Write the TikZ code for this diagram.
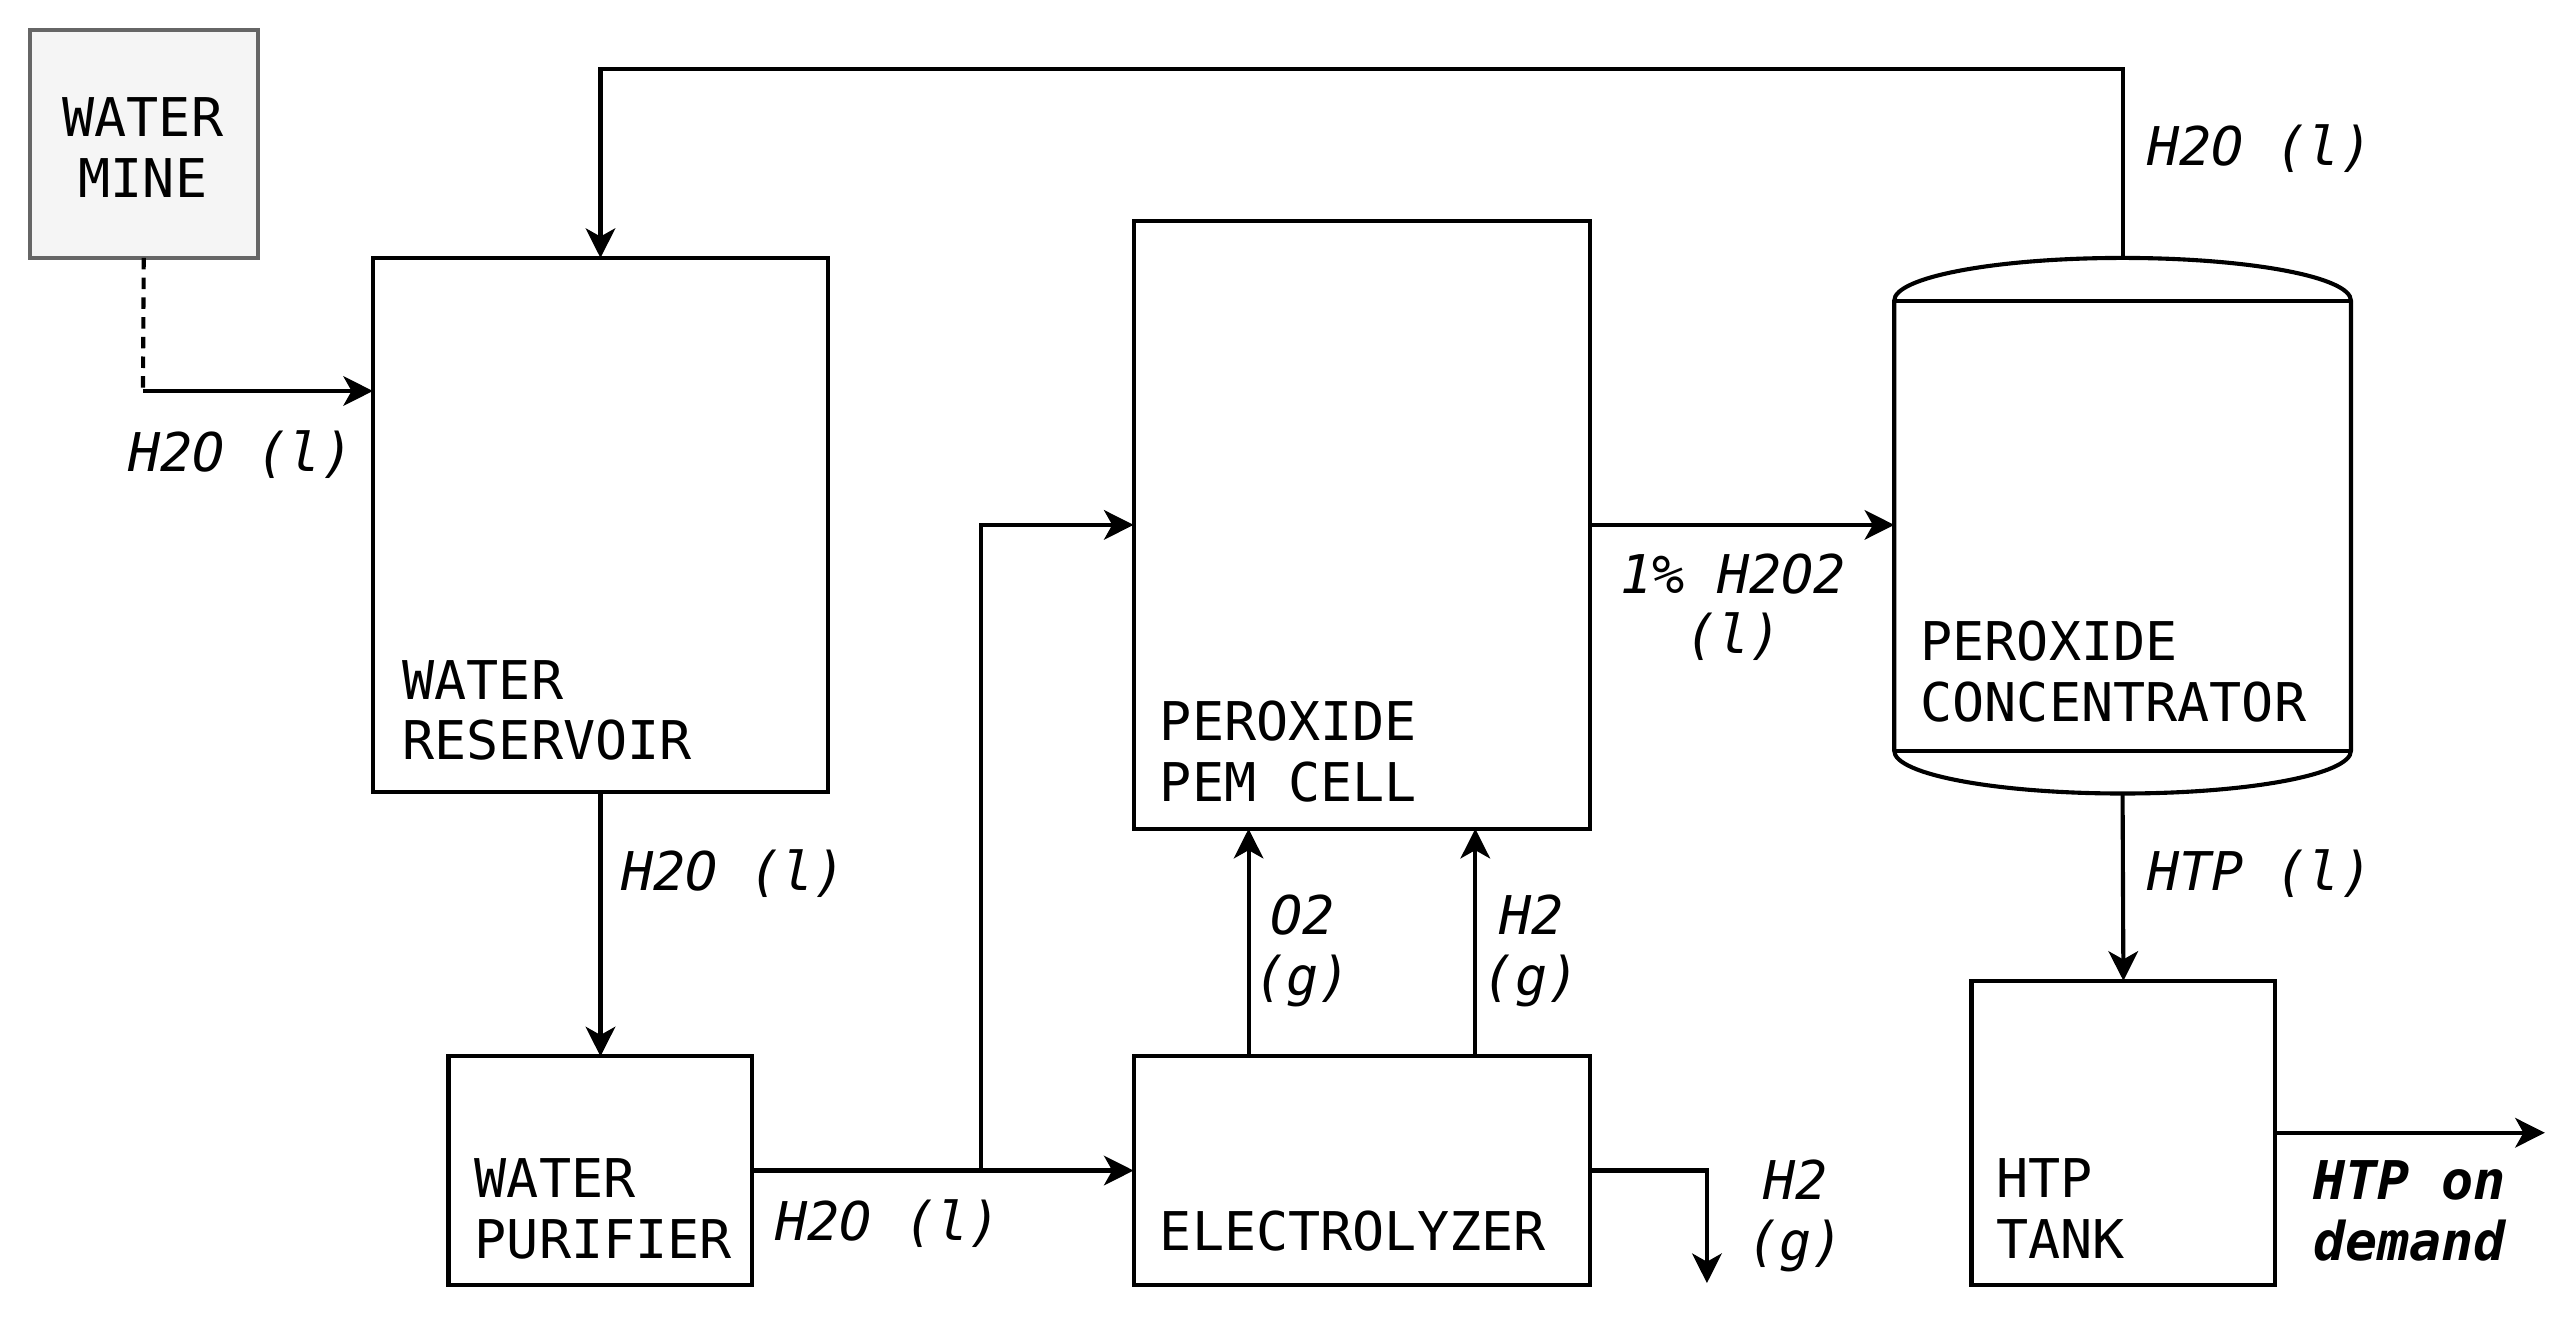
\documentclass[tikz,border=0pt]{standalone}
\usepackage{fontspec}
\setmonofont{DejaVu Sans Mono}
\usetikzlibrary{arrows.meta}
\definecolor{minefill}{HTML}{F5F5F5}
\definecolor{minedraw}{HTML}{666666}
\begin{document}
\begin{tikzpicture}[x=1pt,y=-1pt,
  every node/.style={inner sep=0pt, outer sep=0pt},
  unit/.style={draw=black, line width=2.5pt, fill=white},
  minebox/.style={draw=minedraw, line width=2.5pt, fill=minefill},
  txt/.style={font=\fontsize{32.5}{37}\selectfont\ttfamily, align=left, anchor=base west},
  lbl/.style={font=\fontsize{32.5}{37}\selectfont\ttfamily\itshape, align=left, anchor=base west},
  clbl/.style={font=\fontsize{32.5}{37}\selectfont\ttfamily\itshape, align=center, anchor=base},
  flow/.style={line width=2.5pt, -{Stealth[length=18pt,width=18pt,inset=5pt]}},
  pipe/.style={line width=2.5pt}
]
\useasboundingbox (0,0) rectangle (1568,808);
\fill[white] (0,0) rectangle (1568,808);

% boxes
\node[minebox, minimum width=139pt, minimum height=139pt] (mine) at (87.5,87.5) {};
\node[unit, minimum width=277pt, minimum height=325pt] (res) at (365.5,319.5) {};
\node[unit, minimum width=185pt, minimum height=139pt] (pur) at (365.5,712.5) {};
\node[unit, minimum width=278pt, minimum height=370pt] (pem) at (829,319.5) {};
\node[unit, minimum width=278pt, minimum height=139pt] (elec) at (829,712.5) {};
\node[unit, minimum width=185pt, minimum height=185pt] (tank) at (1292.5,689.5) {};
\node[minimum width=278pt, minimum height=326pt] (conc) at (1292,320) {};

% concentrator shape
\draw[line width=2.5pt, fill=white]
  (1153,183) .. controls (1153,168.6) and (1215.2,157) .. (1292,157)
  .. controls (1368.8,157) and (1431,168.6) .. (1431,183)
  -- (1431,457)
  .. controls (1431,471.4) and (1368.8,483) .. (1292,483)
  .. controls (1215.2,483) and (1153,471.4) .. (1153,457) -- cycle;
\draw[line width=2.5pt] (1153,183) -- (1431,183);
\draw[line width=2.5pt] (1153,457) -- (1431,457);

% box texts (base anchor = baseline of last line)
\node[font=\fontsize{32.5}{37}\selectfont\ttfamily, align=center, anchor=base] (minet) at (87,120) {WATER\\MINE};
\node[txt] (rest) at (245,462.5) {WATER\\RESERVOIR};
\node[txt] (purt) at (289,766) {WATER\\PURIFIER};
\node[txt] (pemt) at (706,488) {PEROXIDE\\PEM CELL};
\node[txt] (elect) at (706,761) {ELECTROLYZER};
\node[txt] (conct) at (1169,439) {PEROXIDE\\CONCENTRATOR};
\node[txt] (tankt) at (1215,766) {HTP\\TANK};

% coordinates
\coordinate (minebend) at (87,238);
\coordinate (fbtop) at (1292,42);
\coordinate (split) at (597,712.5);
\coordinate (h2out) at (1039,781);
\coordinate (htpout) at (1549,689.5);

% connectors
\draw[pipe, dashed, dash pattern=on 7pt off 5pt] (mine.south) -- (minebend);
\draw[flow] (minebend) -- (res.west |- minebend);
\draw[flow] (conc.north) -- (fbtop) -| (res.north);
\draw[flow] (res.south) -- (pur.north);
\draw[flow] (pur.east) -- (elec.west);
\draw[flow] (split) |- (pem.west);
\draw[flow] ([xshift=-69pt]elec.north) -- ([xshift=-69pt]pem.south);
\draw[flow] ([xshift=69pt]elec.north) -- ([xshift=69pt]pem.south);
\draw[flow] (elec.east) -| (h2out);
\draw[flow] (pem.east) -- (pem.east -| conc.west);
\draw[flow] (conc.south) -- (tank.north);
\draw[flow] (tank.east) -- (htpout);

% flow labels
\node[lbl] (l1) at (78,287) {H2O (l)};
\node[lbl] (l2) at (1307,101) {H2O (l)};
\node[lbl] (l3) at (378,542) {H2O (l)};
\node[lbl] (l4) at (472,755) {H2O (l)};
\node[clbl] (l5) at (793,606) {O2\\(g)};
\node[clbl] (l6) at (932,606) {H2\\(g)};
\node[clbl] (l7) at (1093,767) {H2\\(g)};
\node[clbl] (l8) at (1055,398) {1\% H2O2\\(l)};
\node[lbl] (l9) at (1307,542) {HTP (l)};
\node[font=\fontsize{32.5}{37}\selectfont\ttfamily\bfseries\itshape, align=left, anchor=base west] (l10) at (1408,767) {HTP on\\demand};
\end{tikzpicture}
\end{document}
